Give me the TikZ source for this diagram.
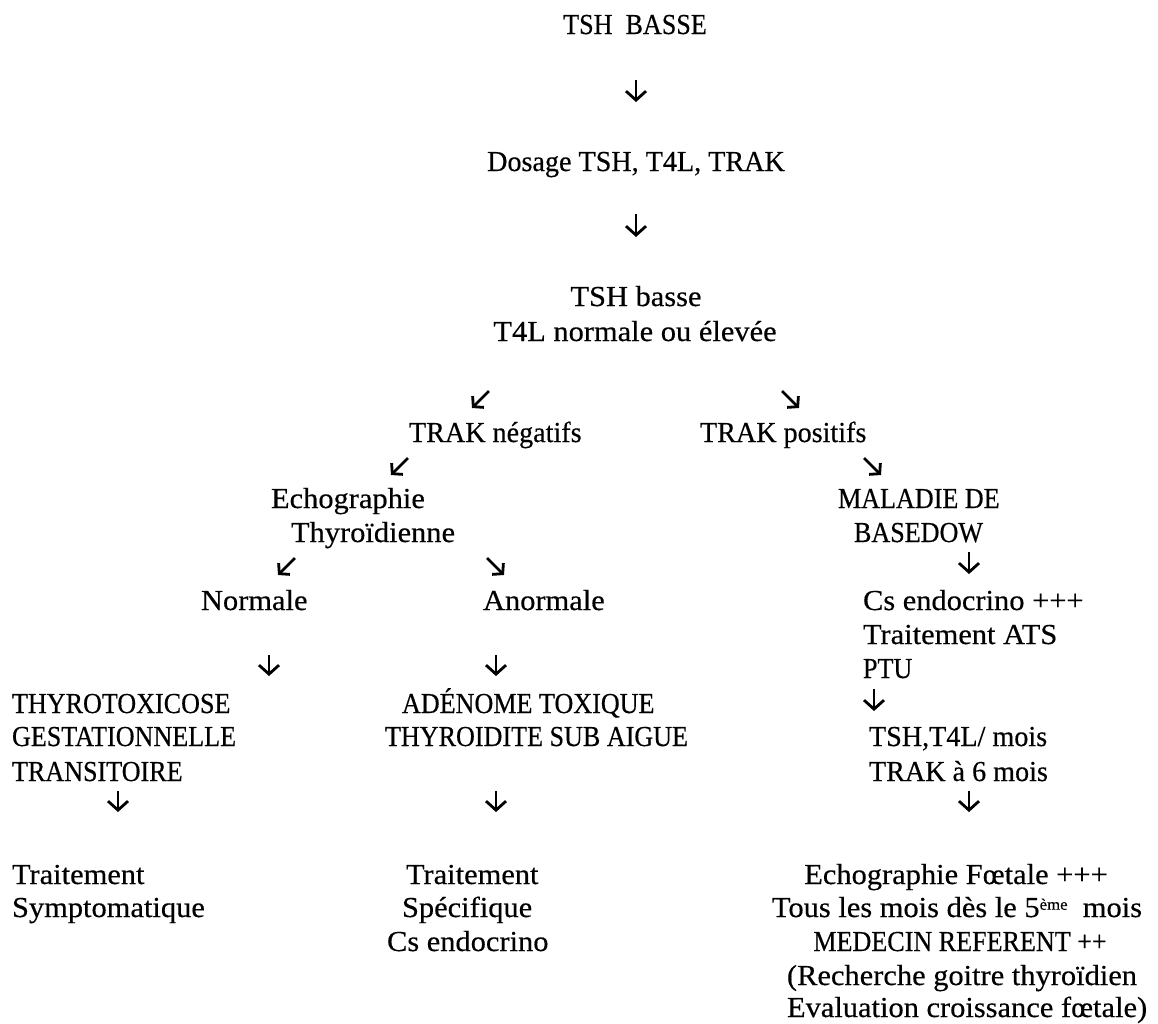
\documentclass[tikz,border=0pt]{standalone}
\usepackage{fontspec}
\setmainfont{Liberation Serif}[FakeStretch=1.05,FakeBold=0.4]
\newfontfamily\mx{Liberation Serif}[FakeStretch=0.97,FakeBold=0.4]
\newfontfamily\uc{Liberation Serif}[FakeStretch=0.90,FakeBold=0.4]
\usetikzlibrary{arrows.meta}
\newcommand\mkarrow[5]{\coordinate (#1a) at (#2,#3); \coordinate (#1b) at (#4,#5); \draw[arr] (#1a) -- (#1b);}
\newcommand\mkdiag[5]{\coordinate (#1a) at (#2,#3); \coordinate (#1b) at (#4,#5); \draw[darr] (#1a) -- (#1b);}
\begin{document}
\begin{tikzpicture}[x=1pt,y=-1pt,
  txt/.style={inner sep=0pt,outer sep=0pt,font=\fontsize{29}{34}\selectfont},
  lt/.style={txt,anchor=base west},
  ct/.style={txt,anchor=base},
  arr/.style={line width=2.8pt,-{Straight Barb[length=9pt,width=20pt,line width=2.8pt]}},
  darr/.style={line width=2.8pt,-{Straight Barb[length=7pt,width=16pt,line width=2.8pt]}}]
\useasboundingbox (0,0) rectangle (1158,1023);
% rows: baseline = 36 + 33.8 n
\node[ct] (tshB) at (635,34) {\uc TSH\ \ BASSE};
\mkarrow{d1}{636}{80}{636}{102}
\node[ct] (dos) at (636,171) {\mx Dosage TSH, T4L, TRAK};
\mkarrow{d2}{636}{214}{636}{237}
\node[ct] (tshb) at (636,306) {TSH basse};
\node[ct] (t4l) at (635,341) {T4L normale ou élevée};
\mkdiag{a11l}{489}{391}{472}{408}
\mkdiag{a11r}{782}{391}{799}{408}
\node[lt] (neg) at (409,442) {\mx TRAK négatifs};
\node[lt] (pos) at (700,442) {\mx TRAK positifs};
\mkdiag{a13l}{408}{458}{391}{475}
\mkdiag{a13r}{864}{458}{881}{475}
\node[lt] (echo) at (271,508) {Echographie};
\node[lt] (mal) at (838,508) {\uc MALADIE DE};
\node[lt] (thy) at (291,542) {Thyroïdienne};
\node[lt] (bas) at (854,542) {\uc BASEDOW};
\mkdiag{a16l}{295}{558}{278}{575}
\mkdiag{a16r}{487}{558}{504}{575}
\mkarrow{d16}{969}{552}{969}{574}
\node[lt] (norm) at (201,610) {Normale};
\node[lt] (anorm) at (483,610) {Anormale};
\node[lt] (cs1) at (863,610) {Cs endocrino +++};
\node[lt] (ats) at (863,644) {Traitement ATS};
\mkarrow{d19l}{269}{655}{269}{676}
\mkarrow{d19m}{496}{655}{496}{676}
\node[lt] (ptu) at (863,678) {\uc PTU};
\node[lt] (thyro) at (12,713) {\uc THYROTOXICOSE};
\node[lt] (aden) at (402,713) {\uc ADÉNOME TOXIQUE};
\mkarrow{d20}{874}{689}{874}{711}
\node[lt] (gest) at (12,746) {\uc GESTATIONNELLE};
\node[lt] (thyd) at (385,746) {\uc THYROIDITE SUB AIGUE};
\node[lt] (tsht) at (869,746) {\mx TSH,T4L/ mois};
\node[lt] (trans) at (12,781) {\uc TRANSITOIRE};
\node[lt] (trak6) at (869,781) {\mx TRAK à 6 mois};
\mkarrow{d23l}{118}{791}{118}{812}
\mkarrow{d23m}{496}{791}{496}{812}
\mkarrow{d23r}{969}{791}{969}{812}
\node[lt] (tr1) at (12,884) {Traitement};
\node[lt] (sym) at (12,917) {Symptomatique};
\node[lt] (tr2) at (406,884) {Traitement};
\node[lt] (spe) at (402,917) {Spécifique};
\node[lt] (cs2) at (387,951) {Cs endocrino};
\node[ct] (foet) at (956,884) {Echographie Fœtale +++};
\node[ct] (tous) at (957,917) {Tous les mois dès le 5\raisebox{0.55ex}{\fontsize{16}{16}\selectfont ème}\ \ mois};
\node[ct] (med) at (960,951) {\uc MEDECIN REFERENT ++};
\node[lt] (rech) at (787,985) {(Recherche goitre thyroïdien};
\node[lt] (eval) at (787,1017) {Evaluation croissance fœtale)};
\end{tikzpicture}
\end{document}
